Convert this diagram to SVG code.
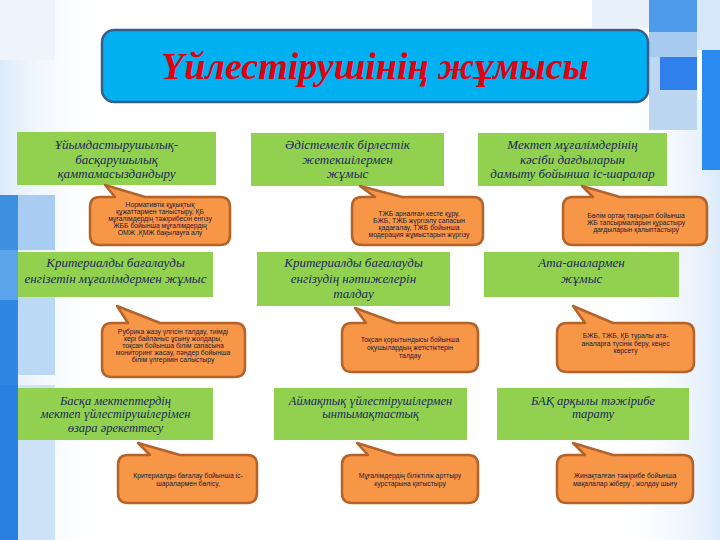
<svg xmlns="http://www.w3.org/2000/svg" width="720" height="540" viewBox="0 0 720 540">
<defs>
<style>
.box{fill:#92D050;}
.bt{font-family:"Liberation Serif","DejaVu Serif",serif;font-style:italic;font-size:13px;fill:#1B2A5C;text-anchor:middle;}
.bt3{font-size:12.5px;}
.co{fill:#F79646;stroke:#B4632A;stroke-width:2.5;stroke-linejoin:round;}
.ct{font-family:"Liberation Sans","DejaVu Sans",sans-serif;font-size:6.8px;fill:#1A1A3A;text-anchor:middle;}
</style>
<linearGradient id="rg" x1="0" y1="0" x2="1" y2="0">
<stop offset="0" stop-color="#FFFFFF" stop-opacity="0"/>
<stop offset="1" stop-color="#DCEBFA"/>
</linearGradient>
<linearGradient id="lg" x1="0" y1="0" x2="1" y2="0">
<stop offset="0" stop-color="#DCEBFA"/>
<stop offset="1" stop-color="#FFFFFF" stop-opacity="0"/>
</linearGradient>
</defs>
<g id="background">
<rect x="0" y="0" width="720" height="540" fill="#FFFFFF"/>
<rect x="0" y="0" width="110" height="540" fill="url(#lg)"/>
<rect x="610" y="100" width="110" height="440" fill="url(#rg)"/>
<rect x="0" y="0" width="55" height="60" fill="#EDF4FC"/>
<rect x="0" y="195" width="18" height="55" fill="#3D8FE0"/>
<rect x="0" y="250" width="18" height="50" fill="#5BA3EB"/>
<rect x="0" y="300" width="18" height="85" fill="#2F86E3"/>
<rect x="0" y="385" width="18" height="155" fill="#2A7FE0"/>
<rect x="18" y="195" width="37" height="55" fill="#A9CDF2"/>
<rect x="18" y="295" width="37" height="80" fill="#BBD8F5"/>
<rect x="18" y="385" width="37" height="155" fill="#CFE3F8"/>
<rect x="592" y="0" width="57" height="28" fill="#E8F1FB"/>
<rect x="649" y="0" width="48" height="32" fill="#4D9BEA"/>
<rect x="649" y="32" width="48" height="25" fill="#A7CBF0"/>
<rect x="649" y="57" width="48" height="33" fill="#BDD7F3"/>
<rect x="660" y="57" width="37" height="33" fill="#2F80ED"/>
<rect x="649" y="90" width="48" height="40" fill="#BDD7F3"/>
<rect x="697" y="0" width="23" height="50" fill="#D6E7F9"/>
<rect x="702" y="50" width="18" height="120" fill="#2A8AF0"/>
</g>
<g id="title">
<rect x="102" y="30" width="546" height="72" rx="12" fill="#00B0F0" stroke="#385D8A" stroke-width="2.5"/>
<text x="375" y="79" font-family="Liberation Serif,DejaVu Serif,serif" font-weight="bold" font-style="italic" font-size="38" fill="#E00010" text-anchor="middle">Үйлестірушінің жұмысы</text>
</g>
<g id="connectors"></g>
<g id="node1">
<rect class="box" x="17" y="132" width="199" height="53"/>
<text class="bt" x="116.5" y="149">Ұйымдастырушылық-</text>
<text class="bt" x="116.5" y="163.5">басқарушылық</text>
<text class="bt" x="116.5" y="178">қамтамасыздандыру</text>
</g>
<g id="node2">
<rect class="box" x="251" y="133" width="193" height="53"/>
<text class="bt" x="347.5" y="149">Әдістемелік бірлестік</text>
<text class="bt" x="347.5" y="163.5">жетекшілермен</text>
<text class="bt" x="347.5" y="178">жұмыс</text>
</g>
<g id="node3">
<rect class="box" x="478" y="133" width="189" height="53"/>
<text class="bt" x="572.5" y="149">Мектеп мұғалімдерінің</text>
<text class="bt" x="572.5" y="163.5">кәсіби дағдыларын</text>
<text class="bt" x="572.5" y="178">дамыту бойынша іс-шаралар</text>
</g>
<g id="callout1">
<path class="co" d="M100,197 L115,197 L105,185 L145,197 L220,197 Q230,197 230,207 L230,235 Q230,245 220,245 L100,245 Q90,245 90,235 L90,207 Q90,197 100,197 Z"/>
<text class="ct" x="160" y="207">Нормативтік құқықтық</text>
<text class="ct" x="160" y="214">құжаттармен таныстыру, ҚБ</text>
<text class="ct" x="160" y="221">мұғалімдердің тәжірибесін енгізу</text>
<text class="ct" x="160" y="228">ЖББ бойынша мұғалімдердің</text>
<text class="ct" x="160" y="235">ОМЖ ,ҚМЖ бақылауға алу</text>
</g>
<g id="callout2">
<path class="co" d="M362,197 L375,197 L360,186 L402,197 L473,197 Q483,197 483,207 L483,235 Q483,245 473,245 L362,245 Q352,245 352,235 L352,207 Q352,197 362,197 Z"/>
<text class="ct" x="419" y="215.5">ТЖБ арналған кесте құру,</text>
<text class="ct" x="419" y="222.5">БЖБ, ТЖБ жүргізілу сапасын</text>
<text class="ct" x="419" y="229.5">қадағалау, ТЖБ бойынша</text>
<text class="ct" x="419" y="236.5">модерация жұмыстарын жүргізу</text>
</g>
<g id="callout3">
<path class="co" d="M573,197 L593,197 L582,186 L620,197 L697,197 Q707,197 707,207 L707,235 Q707,245 697,245 L573,245 Q563,245 563,235 L563,207 Q563,197 573,197 Z"/>
<text class="ct" x="636" y="217.5">Бөлім ортақ тақырып бойынша</text>
<text class="ct" x="636" y="224.5">ЖБ тапсырмаларын құрастыру</text>
<text class="ct" x="636" y="231.5">дағдыларын қалыптастыру</text>
</g>
<g id="node4">
<rect class="box" x="18" y="252" width="195" height="45"/>
<text class="bt" x="115.5" y="267">Критериалды бағалауды</text>
<text class="bt" x="115.5" y="282.5">енгізетін мұғалімдермен жұмыс</text>
</g>
<g id="node5">
<rect class="box" x="257" y="252" width="193" height="54"/>
<text class="bt" x="353.5" y="267">Критериалды бағалауды</text>
<text class="bt" x="353.5" y="282.5">енгізудің нәтижелерін</text>
<text class="bt" x="353.5" y="298">талдау</text>
</g>
<g id="node6">
<rect class="box" x="484" y="252" width="195" height="45"/>
<text class="bt" x="581.5" y="267">Ата-аналармен</text>
<text class="bt" x="581.5" y="282.5">жұмыс</text>
</g>
<g id="callout4">
<path class="co" d="M112,323 L128,323 L117,306 L160,323 L235,323 Q245,323 245,333 L245,367 Q245,377 235,377 L112,377 Q102,377 102,367 L102,333 Q102,323 112,323 Z"/>
<text class="ct" x="173" y="333.5">Рубрика жазу үлгісін талдау, тиімді</text>
<text class="ct" x="173" y="340.5">кері байланыс ұсыну жолдары,</text>
<text class="ct" x="173" y="347.5">тоқсан бойынша білім сапасына</text>
<text class="ct" x="173" y="354.5">мониторинг жасау, пәндер бойынша</text>
<text class="ct" x="173" y="361.5">білім үлгерімін салыстыру</text>
</g>
<g id="callout5">
<path class="co" d="M352,323 L366,323 L355,308 L396,323 L468,323 Q478,323 478,333 L478,362 Q478,372 468,372 L352,372 Q342,372 342,362 L342,333 Q342,323 352,323 Z"/>
<text class="ct" x="410" y="341.5">Тоқсан қорытындысы бойынша</text>
<text class="ct" x="410" y="349.5">оқушылардың жетістіктерін</text>
<text class="ct" x="410" y="357.5">талдау</text>
</g>
<g id="callout6">
<path class="co" d="M567,323 L585,323 L573,306 L613,323 L684,323 Q694,323 694,333 L694,362 Q694,372 684,372 L567,372 Q557,372 557,362 L557,333 Q557,323 567,323 Z"/>
<text class="ct" x="625.5" y="338">БЖБ, ТЖБ, ҚБ туралы ата-</text>
<text class="ct" x="625.5" y="345.5">аналарға түсінік беру, кеңес</text>
<text class="ct" x="625.5" y="353">көрсету</text>
</g>
<g id="node7">
<rect class="box" x="18" y="388" width="195" height="52"/>
<text class="bt bt3" x="115.5" y="404.5">Басқа мектептердің</text>
<text class="bt bt3" x="115.5" y="418">мектеп үйлестірушілерімен</text>
<text class="bt bt3" x="115.5" y="431.5">өзара әрекеттесу</text>
</g>
<g id="node8">
<rect class="box" x="274" y="388" width="193" height="52"/>
<text class="bt bt3" x="370.5" y="404.5">Аймақтық үйлестірушілермен</text>
<text class="bt bt3" x="370.5" y="418">ынтымақтастық</text>
</g>
<g id="node9">
<rect class="box" x="497" y="388" width="192" height="52"/>
<text class="bt bt3" x="593" y="404.5">БАҚ арқылы тәжірибе</text>
<text class="bt bt3" x="593" y="418">тарату</text>
</g>
<g id="callout7">
<path class="co" d="M128,455 L150,455 L138,443 L180,455 L247,455 Q257,455 257,465 L257,493 Q257,503 247,503 L128,503 Q118,503 118,493 L118,465 Q118,455 128,455 Z"/>
<text class="ct" x="188" y="477.5">Критериалды бағалау бойынша іс-</text>
<text class="ct" x="188" y="485.5">шаралармен бөлісу,</text>
</g>
<g id="callout8">
<path class="co" d="M352,455 L368,455 L357,443 L396,455 L468,455 Q478,455 478,465 L478,493 Q478,503 468,503 L352,503 Q342,503 342,493 L342,465 Q342,455 352,455 Z"/>
<text class="ct" x="410" y="477.5">Мұғалімдердің біліктілік арттыру</text>
<text class="ct" x="410" y="485.5">курстарына қатыстыру</text>
</g>
<g id="callout9">
<path class="co" d="M567,455 L585,455 L573,443 L613,455 L683,455 Q693,455 693,465 L693,493 Q693,503 683,503 L567,503 Q557,503 557,493 L557,465 Q557,455 567,455 Z"/>
<text class="ct" x="625" y="477.5">Жинақталған тәжірибе бойынша</text>
<text class="ct" x="625" y="485.5">мақалалар жіберу , жолдау шығу</text>
</g>
</svg>
